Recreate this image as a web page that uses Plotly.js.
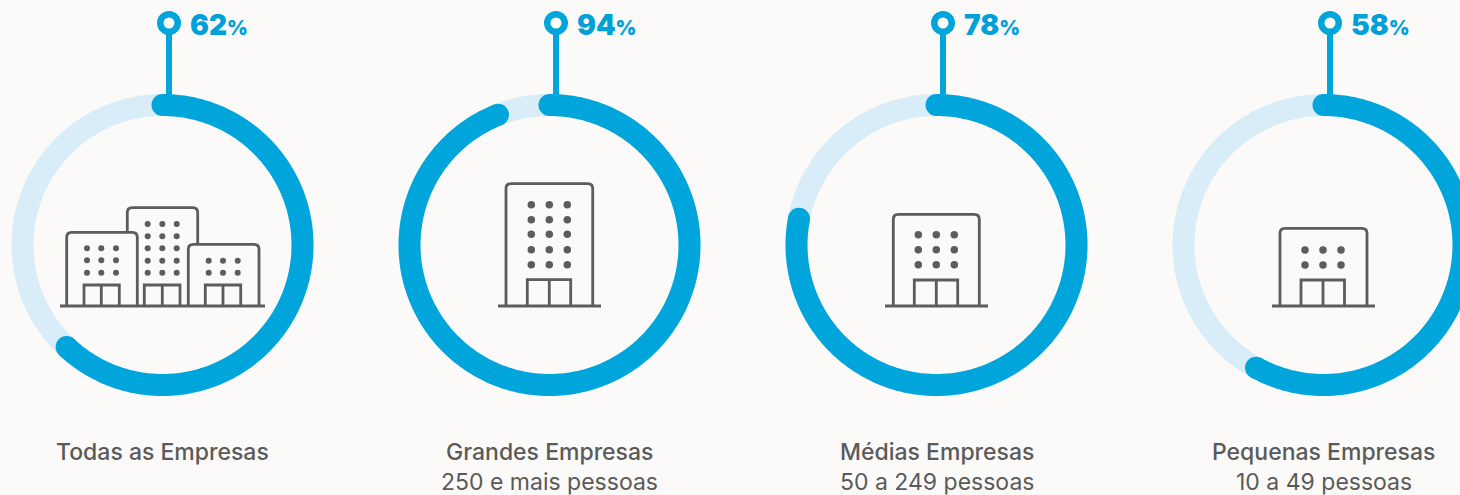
<!DOCTYPE html>
<html>
<head>
<meta charset="utf-8">
<script src="https://cdn.plot.ly/plotly-3.0.1.min.js"></script>
<style>html,body{margin:0;padding:0;background:#fbfaf8;overflow:hidden}#chart{width:1460px;height:495px}</style>
</head>
<body>
<div id="chart"></div>
<script>
const categories = ["Todas as Empresas", "Grandes Empresas", "Médias Empresas", "Pequenas Empresas"];
const subtitles = ["", "250 e mais pessoas", "50 a 249 pessoas", "10 a 49 pessoas"];
const values = [62, 94, 78, 58];

const BLUE = "#00a5db", LIGHT = "#d9edf9", BG = "#fbfaf8", GREY = "#5c5c5c", TEXT = "#5a5a5a";
const centersX = [162.5, 549.5, 936.5, 1323.5];
const CY = 245, R = 140, RING = 22, STEM = 6.5, BASE = 306;

function arc(cx, pct) {
  const xs = [], ys = [], n = Math.round(pct * 4);
  for (let i = 0; i <= n; i++) {
    const a = (i / n) * (pct / 100) * 2 * Math.PI;
    xs.push(cx + R * Math.sin(a));
    ys.push(CY - R * Math.cos(a));
  }
  return {xs, ys};
}

const icons = [
  {
    ground: [60, 265],
    buildings: [
      {x0: 127.3, x1: 197.7, top: 207.7, endL: 232.3, endR: 244.3},
      {x0: 66.7, x1: 137.3, top: 232.3, endL: BASE, endR: BASE},
      {x0: 188.3, x1: 259, top: 244.3, endL: BASE, endR: BASE}
    ],
    doors: [[84, 101.3, 119.3], [144.3, 162.3, 180], [205.3, 223, 240.7]],
    doorTop: 285,
    dotSize: 6,
    dots: [
      {cols: [87, 101.3, 116], rows: [248.3, 260.3, 272.7]},
      {cols: [147.7, 162.3, 176.7], rows: [224, 236.3, 248.3, 260.7, 272.7]},
      {cols: [208.7, 223, 237.7], rows: [260.7, 272.7]}
    ]
  },
  {
    ground: [498, 601],
    buildings: [{x0: 506, x1: 592.7, top: 183.7, endL: BASE, endR: BASE}],
    doors: [[527.3, 549.3, 570.7]],
    doorTop: 279.7,
    dotSize: 7.5,
    dots: [{cols: [531.3, 549.3, 567.3], rows: [204.7, 219.7, 234.3, 249.7, 264.7]}]
  },
  {
    ground: [885, 988],
    buildings: [{x0: 893.3, x1: 979.3, top: 214.3, endL: BASE, endR: BASE}],
    doors: [[914.3, 936.3, 957.7]],
    doorTop: 280,
    dotSize: 7.5,
    dots: [{cols: [918.3, 936.3, 954.3], rows: [234.7, 249.7, 264.7]}]
  },
  {
    ground: [1272, 1375],
    buildings: [{x0: 1280, x1: 1367, top: 228.3, endL: BASE, endR: BASE}],
    doors: [[1301, 1323, 1344.5]],
    doorTop: 280,
    dotSize: 7.5,
    dots: [{cols: [1305, 1323, 1341], rows: [250, 265]}]
  }
];

const traces = [], shapes = [], annotations = [];
const iconLine = {color: GREY, width: 2.8};

values.forEach((v, i) => {
  const cx = centersX[i];
  const full = arc(cx, 100), part = arc(cx, v);
  traces.push({x: full.xs, y: full.ys, mode: "lines", line: {color: LIGHT, width: RING, simplify: false}, name: categories[i] + " (base)"});
  traces.push({x: part.xs, y: part.ys, mode: "lines", line: {color: BLUE, width: RING, simplify: false}, name: categories[i]});
  traces.push({
    x: [part.xs[0], part.xs[part.xs.length - 1]],
    y: [part.ys[0], part.ys[part.ys.length - 1]],
    mode: "markers", marker: {color: BLUE, size: RING}, name: categories[i] + " (caps)"
  });
  const sx = cx + STEM;
  traces.push({x: [sx, sx], y: [28, 96], mode: "lines", line: {color: BLUE, width: 6}, name: "stem"});
  traces.push({
    x: [sx], y: [23], mode: "markers",
    marker: {color: "#fdfdfc", size: 17.5, line: {color: BLUE, width: 6.5}}, name: "pin"
  });

  annotations.push({
    x: sx + 19, y: 24.5, xref: "x", yref: "y", xanchor: "left", yanchor: "middle", showarrow: false,
    text: v + '<span style="font-size:20px">%</span>',
    font: {family: "Inter, sans-serif", size: 28, weight: 900, color: "#00a0d8"}
  });
  annotations.push({
    x: cx, y: 452, xref: "x", yref: "y", xanchor: "center", yanchor: "middle", showarrow: false,
    text: categories[i],
    font: {family: "Inter, sans-serif", size: 23, weight: 500, color: TEXT}
  });
  if (subtitles[i]) {
    annotations.push({
      x: cx, y: 482, xref: "x", yref: "y", xanchor: "center", yanchor: "middle", showarrow: false,
      text: subtitles[i],
      font: {family: "Inter, sans-serif", size: 23, weight: 400, color: TEXT}
    });
  }

  const ic = icons[i];
  ic.buildings.forEach(b => {
    const r = 5;
    shapes.push({
      type: "path", xref: "x", yref: "y", line: iconLine,
      path: `M${b.x0},${b.endL} L${b.x0},${b.top + r} Q${b.x0},${b.top} ${b.x0 + r},${b.top} ` +
            `L${b.x1 - r},${b.top} Q${b.x1},${b.top} ${b.x1},${b.top + r} L${b.x1},${b.endR}`
    });
  });
  ic.doors.forEach(d => {
    shapes.push({
      type: "path", xref: "x", yref: "y", line: iconLine,
      path: `M${d[0]},${BASE} L${d[0]},${ic.doorTop} L${d[2]},${ic.doorTop} L${d[2]},${BASE} M${d[1]},${ic.doorTop} L${d[1]},${BASE}`
    });
  });
  shapes.push({type: "line", xref: "x", yref: "y", x0: ic.ground[0], x1: ic.ground[1], y0: BASE, y1: BASE, line: iconLine});
  ic.dots.forEach(g => {
    const xs = [], ys = [];
    g.rows.forEach(ry => g.cols.forEach(cxx => { xs.push(cxx); ys.push(ry); }));
    traces.push({x: xs, y: ys, mode: "markers", marker: {color: GREY, size: ic.dotSize}, name: "windows"});
  });
});

const layout = {
  width: 1460, height: 495,
  margin: {l: 0, r: 0, t: 0, b: 0, pad: 0},
  paper_bgcolor: BG, plot_bgcolor: BG,
  showlegend: false, hovermode: false,
  xaxis: {range: [0, 1460], visible: false, fixedrange: true},
  yaxis: {range: [495, 0], visible: false, fixedrange: true},
  shapes, annotations
};
Plotly.newPlot("chart", traces, layout, {staticPlot: true, displayModeBar: false});
</script>
</body>
</html>
